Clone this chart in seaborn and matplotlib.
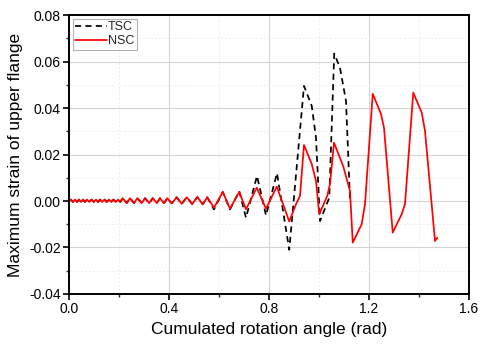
import matplotlib
matplotlib.use("Agg")
import matplotlib.pyplot as plt
from matplotlib.ticker import MultipleLocator, FormatStrFormatter
import seaborn as sns
import pandas as pd

# ---- data ----
# shared small-amplitude cycles (both specimens nearly identical here)
early_x = [0.000, 0.008, 0.016, 0.024, 0.032, 0.040, 0.048, 0.056, 0.064, 0.072, 0.081,
           0.090, 0.099, 0.108, 0.116, 0.124, 0.133, 0.142, 0.151, 0.160, 0.169, 0.178,
           0.187, 0.196, 0.205,
           0.215, 0.231, 0.244, 0.260, 0.273, 0.291, 0.304, 0.321, 0.335, 0.351, 0.364,
           0.380, 0.393, 0.411,
           0.431, 0.451, 0.471, 0.493, 0.513, 0.535]
early_y = [0.0000, 0.0006, -0.0004, 0.0006, -0.0004, 0.0006, -0.0004, 0.0006, -0.0004, 0.0006, -0.0004,
           0.0006, -0.0004, 0.0006, -0.0004, 0.0006, -0.0004, 0.0006, -0.0004, 0.0006, -0.0004, 0.0006,
           -0.0004, 0.0006, -0.0004,
           0.0012, -0.0009, 0.0012, -0.0009, 0.0012, -0.0009, 0.0012, -0.0009, 0.0012, -0.0009, 0.0012,
           -0.0009, 0.0012, -0.0010,
           0.0016, -0.0012, 0.0016, -0.0013, 0.0017, -0.0014]

tsc_late_x = [0.553, 0.580, 0.615, 0.644, 0.681, 0.708, 0.752, 0.788, 0.832, 0.881,
              0.940, 0.971, 0.988, 1.004, 1.041, 1.061, 1.084, 1.108, 1.124]
tsc_late_y = [0.0016, -0.0036, 0.0039, -0.0036, 0.0042, -0.0072, 0.0108, -0.0062, 0.0120, -0.0210,
              0.0495, 0.0409, 0.0272, -0.0086, 0.0014, 0.0634, 0.0573, 0.0430, 0.0007]

nsc_late_x = [0.553, 0.580, 0.615, 0.644, 0.681, 0.708, 0.751, 0.788, 0.831, 0.881,
              0.908, 0.924, 0.940, 0.971, 0.988, 1.001, 1.033, 1.044, 1.060, 1.097,
              1.124, 1.135, 1.171, 1.184, 1.215, 1.248, 1.260, 1.295, 1.331, 1.344,
              1.377, 1.411, 1.424, 1.464, 1.473]
nsc_late_y = [0.0016, -0.0029, 0.0039, -0.0033, 0.0039, -0.0036, 0.0057, -0.0033, 0.0062, -0.0088,
              -0.0014, 0.0022, 0.0241, 0.0159, 0.0086, -0.0057, 0.0022, 0.0073, 0.0251, 0.0149,
              0.0043, -0.0179, -0.0099, -0.0013, 0.0461, 0.0374, 0.0315, -0.0136, -0.0056, -0.0013,
              0.0466, 0.0380, 0.0301, -0.0172, -0.0158]

series_names = ["TSC", "NSC"]
x_ticks = [0.0, 0.4, 0.8, 1.2, 1.6]
y_ticks = [-0.04, -0.02, 0.00, 0.02, 0.04, 0.06, 0.08]

tsc = pd.DataFrame({"x": early_x + tsc_late_x, "y": early_y + tsc_late_y})
nsc = pd.DataFrame({"x": early_x + nsc_late_x, "y": early_y + nsc_late_y})

# ---- style ----
sns.set_theme(style="white")
plt.rcParams["font.family"] = ["Liberation Sans", "DejaVu Sans"]

fig = plt.figure(figsize=(5.0, 3.49), dpi=100)
ax = fig.add_axes([0.138, 0.1576, 0.800, 0.7994])

sns.lineplot(data=tsc, x="x", y="y", ax=ax, sort=False, estimator=None,
             color="black", linewidth=1.25, linestyle=(0, (3.5, 2.5)), label=series_names[0])
sns.lineplot(data=nsc, x="x", y="y", ax=ax, sort=False, estimator=None,
             color="#ff0000", linewidth=1.25, label=series_names[1])

ax.set_xlim(0.0, 1.6)
ax.set_ylim(-0.04, 0.08)
ax.set_xticks(x_ticks)
ax.set_yticks(y_ticks)
ax.xaxis.set_major_formatter(FormatStrFormatter("%.1f"))
ax.yaxis.set_major_formatter(FormatStrFormatter("%.2f"))
ax.xaxis.set_minor_locator(MultipleLocator(0.2))
ax.yaxis.set_minor_locator(MultipleLocator(0.01))

ax.grid(True, which="major", color="#d4d4d4", linewidth=0.8, linestyle="-")
ax.grid(True, which="minor", color="#eeeeee", linewidth=0.7, linestyle=(0, (2, 2)))
ax.set_axisbelow(True)

for s in ax.spines.values():
    s.set_color("black")
    s.set_linewidth(1.4)

ax.tick_params(axis="both", which="major", direction="out", length=4, width=1.2,
               labelsize=10, colors="black", bottom=True, left=True, top=False, right=False, pad=2)
ax.tick_params(axis="both", which="minor", direction="out", length=2.5, width=1.0,
               bottom=True, left=True, top=False, right=False)

ax.set_xlabel("Cumulated rotation angle (rad)", fontsize=12.5, color="black", labelpad=4)
ax.set_ylabel("Maximum strain of upper flange", fontsize=12.5, color="black", labelpad=4)

leg = ax.legend(loc="upper left", fontsize=9, frameon=True, fancybox=False,
                handlelength=2.5, handletextpad=0.1, borderpad=0.2, labelspacing=0.15,
                borderaxespad=0.3)
leg.get_frame().set_edgecolor("#a0a0a0")
leg.get_frame().set_linewidth(0.8)

fig.savefig("out.png", dpi=100)
